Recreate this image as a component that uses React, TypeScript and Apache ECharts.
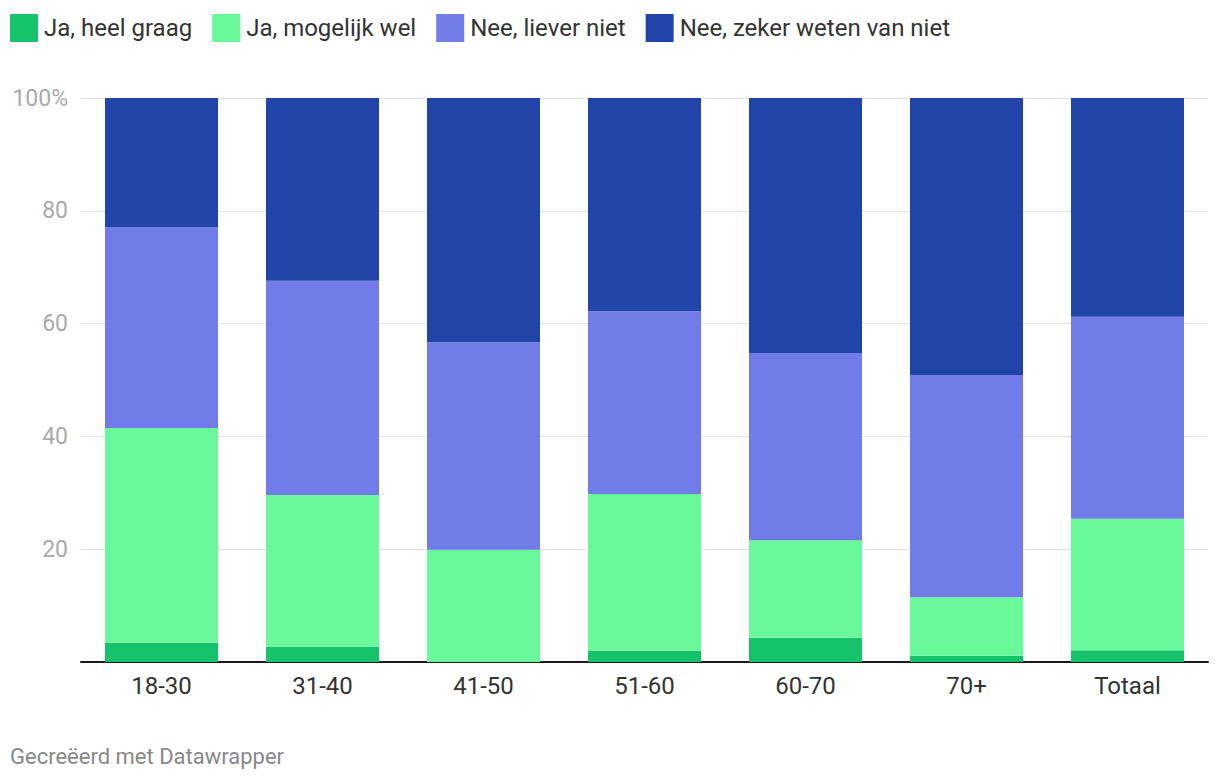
import React, { useEffect, useRef } from "react";
import * as echarts from "echarts";

const categories = ["18-30", "31-40", "41-50", "51-60", "60-70", "70+", "Totaal"];
const seriesNames = ["Ja, heel graag", "Ja, mogelijk wel", "Nee, liever niet", "Nee, zeker weten van niet"];
const jaHeelGraag = [3.4, 2.7, 0, 2.0, 4.3, 1.1, 2.1];
const jaMogelijkWel = [38.1, 26.9, 19.9, 27.8, 17.3, 10.4, 23.3];
const neeLieverNiet = [35.6, 38.0, 36.8, 32.4, 33.2, 39.4, 35.8];
const neeZekerNiet = [22.9, 32.4, 43.3, 37.8, 45.2, 49.1, 38.8];
const colors = ["#15c26a", "#69f89a", "#717ce8", "#2144a8"];
const footer = "Gecreëerd met Datawrapper";

export default function App() {
  const ref = useRef<HTMLDivElement>(null);
  useEffect(() => {
    if (!ref.current) return;
    const chart = echarts.init(ref.current, null, { renderer: "svg" });
    const values = [jaHeelGraag, jaMogelijkWel, neeLieverNiet, neeZekerNiet];
    chart.setOption({
      animation: false,
      textStyle: { fontFamily: "Roboto" },
      legend: {
        left: 10,
        top: 14,
        padding: 0,
        icon: "rect",
        itemWidth: 28,
        itemHeight: 28,
        itemGap: 20,
        textStyle: { fontSize: 24, color: "#333", fontFamily: "Roboto", padding: [0, 0, 0, 1] },
        data: seriesNames,
      },
      grid: { left: 81, right: 12, top: 98, bottom: 122, containLabel: false },
      xAxis: {
        type: "category",
        data: categories,
        axisLine: { lineStyle: { color: "#1a1a1a", width: 2 } },
        axisTick: { show: false },
        axisLabel: { fontSize: 24, color: "#333", margin: 12, fontFamily: "Roboto" },
      },
      yAxis: {
        type: "value",
        min: 0,
        max: 100,
        interval: 20,
        axisLine: { show: false },
        axisTick: { show: false },
        splitLine: { lineStyle: { color: "#e3e3e3", width: 1 } },
        axisLabel: {
          fontSize: 23,
          color: "#aaaaaa",
          margin: 13,
          fontFamily: "Roboto",
          formatter: (v: number) => (v === 100 ? "100%" : v === 0 ? "" : String(v)),
        },
      },
      graphic: [
        {
          type: "text",
          left: 10,
          top: 745,
          style: { text: footer, fontSize: 22, fill: "#888", fontFamily: "Roboto" },
        },
      ],
      series: seriesNames.map((name, i) => ({
        name,
        type: "bar",
        stack: "total",
        barCategoryGap: "29.8%",
        data: values[i],
        itemStyle: { color: colors[i] },
      })),
    });
    return () => chart.dispose();
  }, []);
  return (
    <div
      ref={ref}
      style={{ position: "fixed", left: 0, top: 0, width: 1220, height: 784, background: "#fff" }}
    />
  );
}
